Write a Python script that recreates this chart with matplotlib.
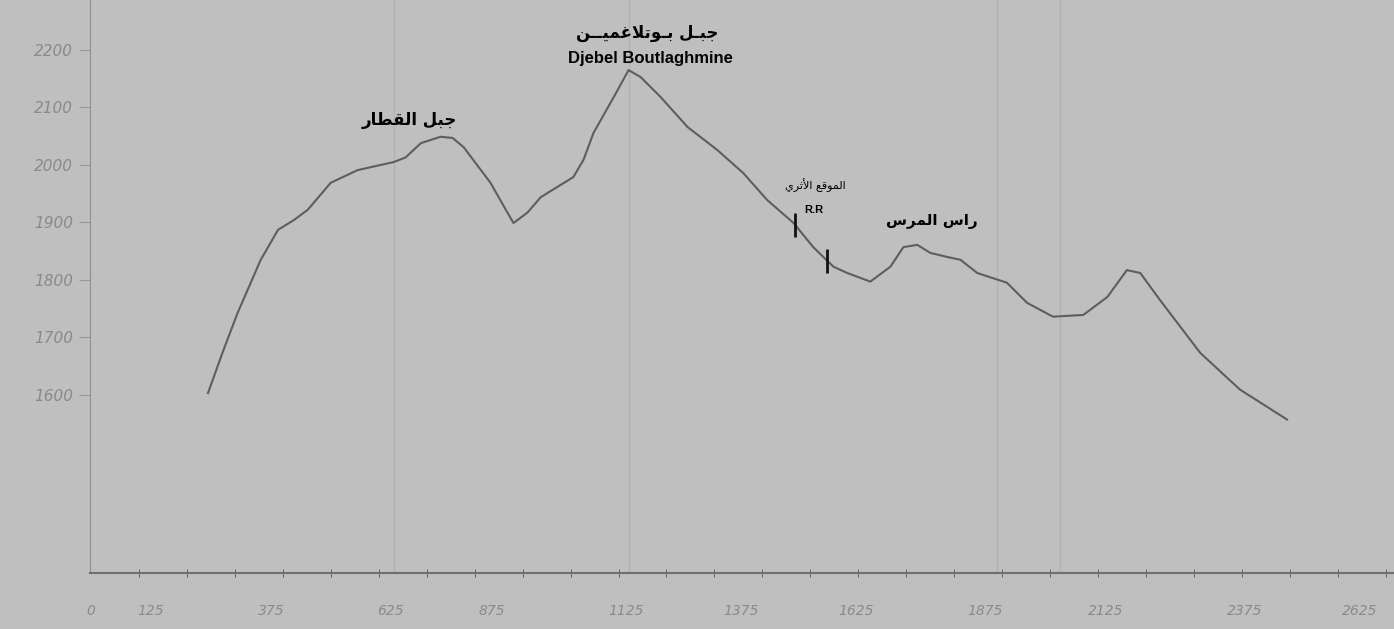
import matplotlib.pyplot as plt
import numpy as np

# profile: distance (m) / elevation (m)
dist_m = [244, 275, 306, 354, 390, 423, 452, 500, 556, 631, 656, 688, 729, 754,
          777, 833, 865, 881, 910, 938, 1006, 1027, 1048, 1090, 1121, 1146, 1188,
          1244, 1306, 1360, 1410, 1465, 1506, 1548, 1577, 1625, 1667, 1694, 1723,
          1750, 1785, 1813, 1848, 1910, 1952, 2006, 2069, 2119, 2160, 2188, 2229,
          2313, 2396, 2494]
elev_m = [1603, 1675, 1743, 1835, 1887, 1904, 1922, 1969, 1991, 2005, 2013, 2038,
          2049, 2047, 2031, 1969, 1922, 1899, 1917, 1944, 1979, 2009, 2056, 2118,
          2165, 2153, 2118, 2066, 2026, 1986, 1939, 1899, 1857, 1823, 1812, 1797,
          1823, 1857, 1861, 1847, 1840, 1835, 1812, 1795, 1760, 1736, 1739, 1770,
          1817, 1812, 1765, 1673, 1609, 1557]

y_ticks = [1600, 1700, 1800, 1900, 2000, 2100, 2200]
x_ticks = [0, 125, 375, 625, 835, 1115, 1355, 1595, 1865, 2115, 2405, 2645]
x_labels = ['0', '125', '375', '625', '875', '1125', '1375', '1625', '1875',
            '2125', '2375', '2625']
site_m = [1469, 1535]   # R.R limits


# tiny Arabic shaper (matplotlib has no bidi / joining)
FORMS = {
    'ا': ('\uFE8D', '\uFE8E', None, None), 'أ': ('\uFE83', '\uFE84', None, None),
    'ب': ('\uFE8F', '\uFE90', '\uFE91', '\uFE92'), 'ت': ('\uFE95', '\uFE96', '\uFE97', '\uFE98'),
    'ث': ('\uFE99', '\uFE9A', '\uFE9B', '\uFE9C'), 'ج': ('\uFE9D', '\uFE9E', '\uFE9F', '\uFEA0'),
    'ر': ('\uFEAD', '\uFEAE', None, None), 'س': ('\uFEB1', '\uFEB2', '\uFEB3', '\uFEB4'),
    'ط': ('\uFEC1', '\uFEC2', '\uFEC3', '\uFEC4'), 'ع': ('\uFEC9', '\uFECA', '\uFECB', '\uFECC'),
    'غ': ('\uFECD', '\uFECE', '\uFECF', '\uFED0'), 'ق': ('\uFED5', '\uFED6', '\uFED7', '\uFED8'),
    'ل': ('\uFEDD', '\uFEDE', '\uFEDF', '\uFEE0'), 'م': ('\uFEE1', '\uFEE2', '\uFEE3', '\uFEE4'),
    'ن': ('\uFEE5', '\uFEE6', '\uFEE7', '\uFEE8'), 'و': ('\uFEED', '\uFEEE', None, None),
    'ي': ('\uFEF1', '\uFEF2', '\uFEF3', '\uFEF4'), 'ـ': ('ـ', 'ـ', 'ـ', 'ـ'),
}
LAM_ALEF = {'ا': ('\uFEFB', '\uFEFC'), 'أ': ('\uFEF7', '\uFEF8')}


def joins_next(c):
    return c in FORMS and FORMS[c][2] is not None


def shape(s):
    out, i, prev = [], 0, None
    while i < len(s):
        c = s[i]
        nxt = s[i + 1] if i + 1 < len(s) else None
        linked = prev is not None and joins_next(prev)
        if c == 'ل' and nxt in LAM_ALEF:
            out.append(LAM_ALEF[nxt][1 if linked else 0])
            prev, i = nxt, i + 2
            continue
        if c not in FORMS:
            out.append(c)
            prev, i = None, i + 1
            continue
        to_next = joins_next(c) and nxt in FORMS
        iso, fin, ini, med = FORMS[c]
        if linked and to_next:
            out.append(med)
        elif linked:
            out.append(fin)
        elif to_next:
            out.append(ini)
        else:
            out.append(iso)
        prev, i = c, i + 1
    return ''.join(out)[::-1]


bg = '#bfbfbf'
fig = plt.figure(figsize=(13.94, 6.29), dpi=100, facecolor=bg)
ax = fig.add_axes([90 / 1394, 56 / 629, 1304 / 1394, 573 / 629], facecolor=bg)

ax.plot(dist_m, elev_m, color='#5e5e5e', lw=1.5, solid_joinstyle='round')

site_e = np.interp(site_m, dist_m, elev_m)
ax.plot(site_m, site_e, ls='none', marker='|', ms=17, mew=2, color='#111111')

ax.set_xlim(-2, 2717)
ax.set_ylim(1290, 2287)

# faint drop lines from the scan
for xv in [631, 1121, 1890, 2020]:
    ax.axvline(xv, color='#b2b2b2', lw=1, zorder=0)

ax.set_yticks(y_ticks)
ax.set_yticklabels([f'{v}' for v in y_ticks], color='#8a8a8a', fontsize=11,
                   style='italic')
ax.set_xticks(x_ticks)
ax.set_xticklabels(x_labels, color='#8a8a8a', fontsize=10, style='italic')
ax.set_xticks(np.arange(0, 2717, 100), minor=True)
ax.tick_params(axis='x', which='major', length=0, pad=22)
ax.tick_params(axis='x', which='minor', length=6, direction='inout', color='#555555')
ax.tick_params(axis='y', length=8, color='#999999', pad=4)

for side in ['top', 'right']:
    ax.spines[side].set_visible(False)
ax.spines['left'].set_color('#8e8e8e')
ax.spines['bottom'].set_color('#707070')
ax.spines['bottom'].set_linewidth(1.5)

ar = ['DejaVu Sans']
ax.text(663, 2078, shape('جبل القطار'), family=ar, weight='bold', fontsize=12,
        ha='center', va='center')
ax.text(1160, 2230, shape('جبـل بـوتلاغميــن'), family=ar, weight='bold', fontsize=12,
        ha='center', va='center')
ax.text(1166, 2186, 'Djebel Boutlaghmine', family='Liberation Sans', weight='bold',
        fontsize=12, ha='center', va='center')
ax.text(1510, 1965, shape('الموقع الأثري'), family=ar, fontsize=8, ha='center', va='center')
ax.text(1508, 1922, 'R.R', family='Liberation Sans', weight='bold', fontsize=8,
        ha='center', va='center')
ax.text(1754, 1901, shape('راس المرس'), family=ar, weight='bold', fontsize=11,
        ha='center', va='center')

fig.savefig('out.png', dpi=100, facecolor=bg)
